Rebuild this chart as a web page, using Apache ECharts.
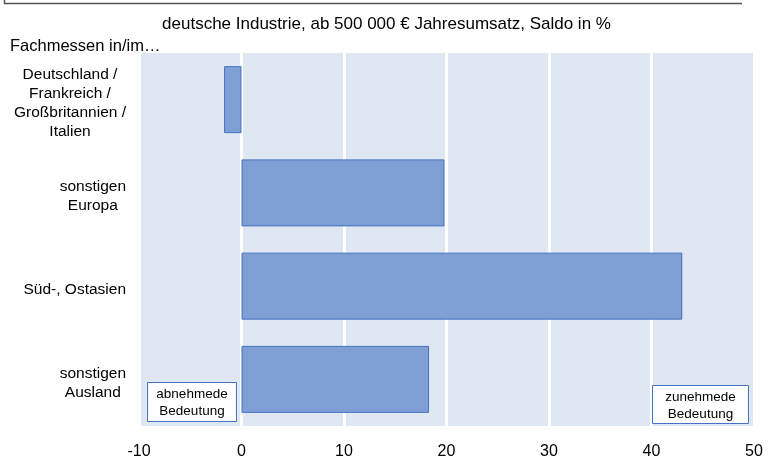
<!DOCTYPE html>
<html>
<head>
<meta charset="utf-8">
<script src="https://cdn.jsdelivr.net/npm/echarts@6/dist/echarts.min.js"></script>
<style>
  html, body { margin: 0; padding: 0; background: #fff; }
  #chart { width: 773px; height: 463px; }
</style>
</head>
<body>
<div id="chart"></div>
<script>
// Fachmessen - Saldo in %
var categories = [
  'Deutschland /\nFrankreich /\nGroßbritannien /\nItalien',
  'sonstigen\nEuropa',
  'Süd-, Ostasien',
  'sonstigen\nAusland'
];
var saldo = [-1.7, 19.8, 43.0, 18.3];
var xTicks = [-10, 0, 10, 20, 30, 40, 50];

var font = '"Liberation Sans", Arial, sans-serif';

var myChart = echarts.init(document.getElementById('chart'));
var option = {
  backgroundColor: '#ffffff',
  animation: false,
  textStyle: { fontFamily: font },
  grid: {
    show: true,
    left: 139,
    right: 19,
    top: 53,
    bottom: 37,
    backgroundColor: '#dfe7f3',
    borderWidth: 0
  },
  xAxis: {
    type: 'value',
    min: xTicks[0],
    max: xTicks[xTicks.length - 1],
    interval: 10,
    axisLine: { show: false },
    axisTick: { show: false },
    splitLine: { show: true, lineStyle: { color: '#ffffff', width: 3 } },
    axisLabel: { color: '#000', fontSize: 16, fontFamily: font, margin: 18 }
  },
  yAxis: {
    type: 'category',
    inverse: true,
    data: categories,
    axisLine: { show: false },
    axisTick: { show: false },
    splitLine: { show: false },
    axisLabel: {
      margin: 13,
      padding: [7, 0, 0, 0],
      formatter: function(v){ return '{c|' + v + '}'; },
      rich: {
        c: { align: 'center', fontSize: 15.5, lineHeight: 19, color: '#000', fontFamily: font }
      }
    }
  },
  series: [{
    type: 'bar',
    data: saldo,
    barWidth: 67,
    itemStyle: { color: '#7f9fd4', borderColor: '#4472c4', borderWidth: 1 }
  }],
  graphic: [
    { type: 'polyline', shape: { points: [[4.5, 0], [4.5, 3.5], [742, 3.5]] },
      style: { stroke: '#555', lineWidth: 1.5, fill: null } },
    { type: 'text', left: 'center', top: 16,
      style: { text: 'deutsche Industrie, ab 500 000 € Jahresumsatz, Saldo in %', font: '17px ' + font, fill: '#000' } },
    { type: 'text', left: 10, top: 38,
      style: { text: 'Fachmessen in/im…', font: '16.5px ' + font, fill: '#000' } },
    { type: 'rect', shape: { x: 147.5, y: 382.5, width: 89, height: 39 },
      style: { fill: '#fff', stroke: '#4472c4', lineWidth: 1 }, z: 100 },
    { type: 'text', x: 192, y: 403, z: 101,
      style: { text: 'abnehmede\nBedeutung', font: '13.5px ' + font, lineHeight: 17, fill: '#000', align: 'center', verticalAlign: 'middle' } },
    { type: 'rect', shape: { x: 652.5, y: 385.5, width: 96, height: 38 },
      style: { fill: '#fff', stroke: '#4472c4', lineWidth: 1 }, z: 100 },
    { type: 'text', x: 700.5, y: 405.5, z: 101,
      style: { text: 'zunehmede\nBedeutung', font: '13.5px ' + font, lineHeight: 17, fill: '#000', align: 'center', verticalAlign: 'middle' } }
  ]
};
myChart.setOption(option);
</script>
</body>
</html>
